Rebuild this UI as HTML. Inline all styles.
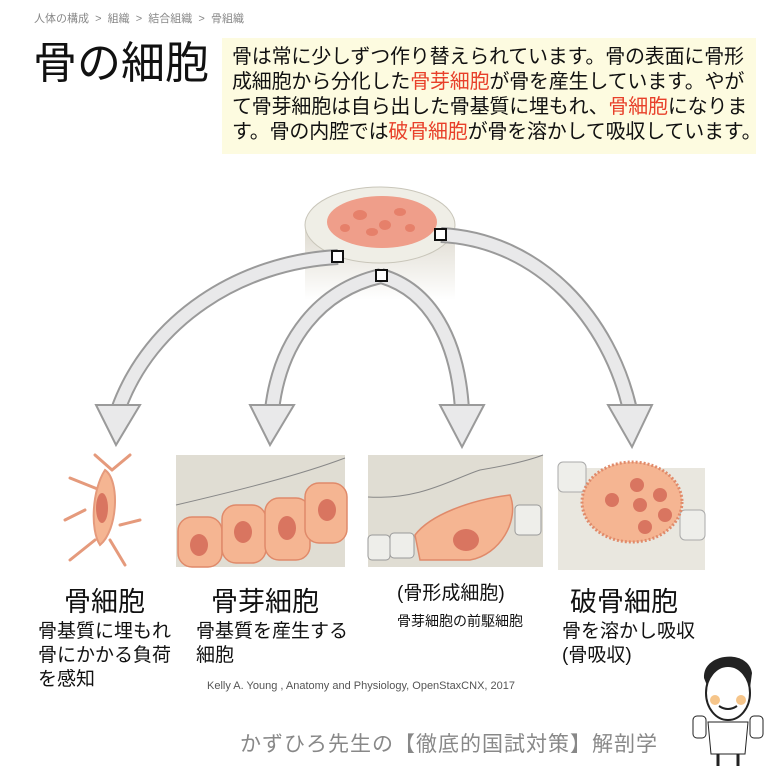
<!DOCTYPE html>
<html><head><meta charset="utf-8"><style>
body{margin:0;width:768px;height:768px;background:#fff;position:relative;overflow:hidden;font-family:"Liberation Sans","Noto Sans CJK JP",sans-serif;}
.a{position:absolute;white-space:nowrap;color:#111;}
.r{color:#e8402a;}
</style></head><body>
<div class="a" style="left:34px;top:10px;font-size:11px;color:#888;">人体の構成 &nbsp;&gt;&nbsp; 組織 &nbsp;&gt;&nbsp; 結合組織 &nbsp;&gt;&nbsp; 骨組織</div>
<div class="a" style="left:33px;top:38px;font-size:44px;line-height:52px;">骨の細胞</div>
<div style="position:absolute;left:222px;top:38px;width:534px;height:116px;background:#fdfbe0;"></div>
<div class="a" style="left:232px;top:45px;font-size:20px;line-height:25px;letter-spacing:-0.2px;">骨は常に少しずつ作り替えられています。骨の表面に骨形<br>成細胞から分化した<span class="r">骨芽細胞</span>が骨を産生しています。やが<br>て骨芽細胞は自ら出した骨基質に埋もれ、<span class="r">骨細胞</span>になりま<br>す。骨の内腔では<span class="r">破骨細胞</span>が骨を溶かして吸収しています。</div>

<svg style="position:absolute;left:0;top:0" width="768" height="768">
<defs>
<linearGradient id="cyl" x1="0" y1="0" x2="0" y2="1"><stop offset="0" stop-color="#ddd9ce"/><stop offset="1" stop-color="#fff"/></linearGradient>
</defs>
<path d="M305 225 L305 300 L455 300 L455 225 Z" fill="url(#cyl)"/>
<ellipse cx="380" cy="225" rx="75" ry="38" fill="#efeee6" stroke="#c9c6ba"/>
<ellipse cx="382" cy="222" rx="55" ry="26" fill="#ef9e8a"/>
<g fill="#e6806a"><ellipse cx="360" cy="215" rx="7" ry="5"/><ellipse cx="385" cy="225" rx="6" ry="5"/><ellipse cx="400" cy="212" rx="6" ry="4"/><ellipse cx="372" cy="232" rx="6" ry="4"/><ellipse cx="410" cy="228" rx="5" ry="4"/><ellipse cx="345" cy="228" rx="5" ry="4"/></g>
<g fill="none" stroke="#9a9a9a" stroke-width="16" stroke-linecap="butt">
<path d="M338 257 C240 262 150 320 118 410"/>
<path d="M381 276 C320 290 280 340 272 410"/>
<path d="M381 276 C430 290 458 340 462 410"/>
<path d="M441 235 C540 240 610 320 630 410"/>
</g>
<g fill="none" stroke="#e9e9ea" stroke-width="12">
<path d="M338 257 C240 262 150 320 118 410"/>
<path d="M381 276 C320 290 280 340 272 410"/>
<path d="M381 276 C430 290 458 340 462 410"/>
<path d="M441 235 C540 240 610 320 630 410"/>
</g>
<g fill="#e9e9ea" stroke="#9a9a9a" stroke-width="2">
<path d="M96 405 L140 405 L116 445 Z"/>
<path d="M250 405 L294 405 L270 445 Z"/>
<path d="M440 405 L484 405 L462 447 Z"/>
<path d="M608 405 L652 405 L632 447 Z"/>
</g>
<g fill="#fff" stroke="#111" stroke-width="2">
<rect x="332" y="251" width="11" height="11"/><rect x="435" y="229" width="11" height="11"/><rect x="376" y="270" width="11" height="11"/>
</g>
<g stroke="#e59a7c" stroke-width="3" fill="none" stroke-linecap="round">
<path d="M112 470 L95 455 M112 470 L130 455 M100 490 L70 478 M120 525 L140 520 M95 540 L70 560 M110 540 L125 565 M85 510 L65 520"/>
</g>
<path d="M105 470 C120 480 118 530 100 545 C90 530 92 490 105 470 Z" fill="#f5b592" stroke="#e59a7c" stroke-width="2"/>
<ellipse cx="102" cy="508" rx="6" ry="15" fill="#d97560"/>
<rect x="176" y="455" width="169" height="112" fill="#e0ddd3"/>
<path d="M176 505 C240 490 300 475 345 458" stroke="#888" fill="none"/>
<g fill="#f5b592" stroke="#e08a6a" stroke-width="1.5">
<rect x="178" y="517" width="44" height="50" rx="14"/><rect x="222" y="505" width="44" height="58" rx="14"/><rect x="265" y="498" width="45" height="62" rx="14"/><rect x="305" y="483" width="42" height="60" rx="14"/>
</g>
<g fill="#d97560"><ellipse cx="199" cy="545" rx="9" ry="11"/><ellipse cx="243" cy="532" rx="9" ry="11"/><ellipse cx="287" cy="528" rx="9" ry="12"/><ellipse cx="327" cy="510" rx="9" ry="11"/></g>
<rect x="368" y="455" width="175" height="112" fill="#e0ddd3"/>
<path d="M368 497 C420 500 450 480 480 470 C510 465 530 460 543 455" stroke="#888" fill="none"/>
<g fill="#eeeeea" stroke="#999"><rect x="368" y="535" width="22" height="25" rx="4"/><rect x="390" y="533" width="24" height="25" rx="4"/><rect x="515" y="505" width="26" height="30" rx="4"/></g>
<path d="M415 535 C430 515 470 500 510 495 C520 520 500 555 470 560 L420 560 Z" fill="#f5b592" stroke="#e08a6a" stroke-width="1.5"/>
<ellipse cx="466" cy="540" rx="13" ry="11" fill="#d97560"/>
<rect x="558" y="468" width="147" height="102" fill="#e9e7df"/>
<g fill="#eeeeea" stroke="#aaa"><rect x="558" y="462" width="28" height="30" rx="5"/><rect x="680" y="510" width="25" height="30" rx="5"/></g>
<ellipse cx="632" cy="502" rx="50" ry="40" fill="#f5b592" stroke="#e08a6a" stroke-width="3" stroke-dasharray="2 2"/>
<g fill="#d97560"><circle cx="637" cy="485" r="7"/><circle cx="612" cy="500" r="7"/><circle cx="640" cy="505" r="7"/><circle cx="660" cy="495" r="7"/><circle cx="665" cy="515" r="7"/><circle cx="645" cy="527" r="7"/></g>
</svg>

<div class="a" style="left:64px;top:580px;font-size:27px;">骨細胞</div>
<div class="a" style="left:38px;top:620px;font-size:19px;line-height:24px;">骨基質に埋もれ<br>骨にかかる負荷<br>を感知</div>
<div class="a" style="left:211px;top:580px;font-size:27px;">骨芽細胞</div>
<div class="a" style="left:196px;top:620px;font-size:19px;line-height:24px;">骨基質を産生する<br>細胞</div>
<div class="a" style="left:397px;top:578px;font-size:19px;">(骨形成細胞)</div>
<div class="a" style="left:397px;top:611px;font-size:14px;">骨芽細胞の前駆細胞</div>
<div class="a" style="left:570px;top:580px;font-size:27px;">破骨細胞</div>
<div class="a" style="left:562px;top:620px;font-size:19px;line-height:24px;">骨を溶かし吸収<br>(骨吸収)</div>
<div class="a" style="left:207px;top:680px;font-size:11px;color:#555;">Kelly A. Young , Anatomy and Physiology, OpenStaxCNX, 2017</div>
<div class="a" style="left:240px;top:728px;font-size:21px;color:#888;letter-spacing:1px;">かずひろ先生の【徹底的国試対策】解剖学</div>
<svg style="position:absolute;left:690px;top:648px" width="78" height="120">
<path d="M14 30 C12 5 58 0 62 25 L60 40 L18 40 Z" fill="#222"/>
<ellipse cx="38" cy="45" rx="22" ry="27" fill="#fff" stroke="#222" stroke-width="2"/>
<circle cx="25" cy="52" r="5" fill="#f6c58a"/><circle cx="51" cy="52" r="5" fill="#f6c58a"/>
<path d="M29 58 Q38 64 47 58" stroke="#222" fill="none" stroke-width="2"/>
<path d="M18 74 L58 74 L55 106 L21 106 Z" fill="#fff" stroke="#222"/>
<rect x="3" y="68" width="13" height="22" rx="4" fill="#fff" stroke="#222"/><rect x="60" y="68" width="13" height="22" rx="4" fill="#fff" stroke="#222"/>
<path d="M28 106 L28 118 M48 106 L48 118" stroke="#222" stroke-width="3"/>
</svg>
</body></html>
